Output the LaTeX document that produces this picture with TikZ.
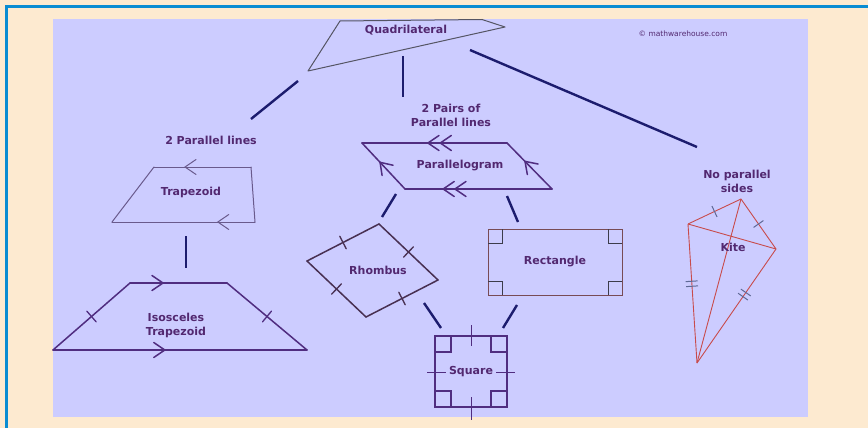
\documentclass[tikz,border=0pt]{standalone}
\usepackage{fontspec}
\setmainfont{DejaVu Sans}
\usetikzlibrary{decorations.markings}
\definecolor{cream}{RGB}{253,234,208}
\definecolor{frameblue}{RGB}{10,140,210}
\definecolor{panel}{RGB}{204,204,255}
\definecolor{textpurple}{RGB}{82,40,112}
\definecolor{branchblue}{RGB}{28,28,110}
\definecolor{quadgray}{RGB}{85,85,100}
\definecolor{trapgray}{RGB}{105,90,140}
\definecolor{shapepurple}{RGB}{80,45,128}
\definecolor{rhomdark}{RGB}{72,48,82}
\definecolor{rectbrown}{RGB}{120,75,85}
\definecolor{cornergray}{RGB}{60,60,75}
\definecolor{kitered}{RGB}{200,75,75}
\definecolor{tickblue}{RGB}{95,105,150}
\tikzstyle{shapetext} = [font=\fontsize{11}{14}\selectfont\bfseries, text=textpurple, align=center, inner sep=0pt]
\tikzstyle{branch} = [line width=2.4pt, draw=branchblue]
\tikzstyle{outline} = [line width=1.5pt, line cap=round, line join=round]
\tikzset{
  chevat/.style={postaction={decorate, decoration={markings,
    mark=at position #1 with {\draw[line cap=round, line join=miter] (-11,-7.5) -- (0,0) -- (-11,7.5);}}}},
  tickat/.style={postaction={decorate, decoration={markings,
    mark=at position #1 with {\draw[line width=1.3pt] (0,-7) -- (0,7);}}}},
  dtickat/.style={postaction={decorate, decoration={markings,
    mark=at position #1 with {\draw[tickblue, line width=1pt] (-2.5,-6) -- (-2.5,6) (2.5,-6) -- (2.5,6);}}}}
}

\begin{document}
\begin{tikzpicture}[x=1pt, y=-1pt]
\useasboundingbox (0,0) rectangle (868,428);
\fill[cream] (0,0) rectangle (868,428);
\draw[frameblue, line width=3pt] (6.5,432) -- (6.5,6.5) -- (872,6.5);
\fill[panel] (53,19) rectangle (808,417);

% top shape
\draw[quadgray, line width=1pt, line join=round] (340,21) -- (482,19.5) -- (505,27) -- (308,71) -- cycle;
\node (quad) [shapetext] at (406,30) {Quadrilateral};
\node (copy) [font=\fontsize{7.5}{9}\selectfont, text=textpurple] at (683,34) {© mathwarehouse.com};

% branches from the top
\coordinate (qleft) at (298,81);
\coordinate (qmid) at (403,56);
\coordinate (qright) at (470,50);
\coordinate (twoline) at (251,119);
\coordinate (twopair) at (403,97);
\coordinate (noline) at (697,147);
\draw [branch] (qleft) -- (twoline);
\draw [branch] (qmid) -- (twopair);
\draw [branch] (qright) -- (noline);

% trapezoids
\node (lines1) [shapetext] at (211,140) {2 Parallel lines};
\coordinate (tA) at (154,167);
\coordinate (tB) at (251,167);
\coordinate (tC) at (255,222);
\coordinate (tD) at (112,222);
\draw[trapgray, outline, line width=1pt] (tB) -- (tC) (tD) -- (tA);
\draw[trapgray, outline, line width=1pt, chevat=0.68] (tB) -- (tA);
\draw[trapgray, outline, line width=1pt, chevat=0.26] (tC) -- (tD);
\node (trap) [shapetext] at (191,192) {Trapezoid};
\coordinate (trapdown) at (186,236);
\coordinate (isoup) at (186,268);
\draw [branch] (trapdown) -- (isoup);
\coordinate (iA) at (130,283);
\coordinate (iB) at (227,283);
\coordinate (iC) at (307,350);
\coordinate (iD) at (53,350);
\draw[shapepurple, outline, chevat=0.34] (iA) -- (iB);
\draw[shapepurple, outline, chevat=0.44] (iD) -- (iC);
\draw[shapepurple, outline, tickat=0.5] (iD) -- (iA);
\draw[shapepurple, outline, tickat=0.5] (iB) -- (iC);
\node (iso) [shapetext] at (176,325) {Isosceles\\Trapezoid};

% parallelogram
\node (lines2) [shapetext] at (451,115) {2 Pairs of\\Parallel lines};
\coordinate (pA) at (362,143);
\coordinate (pB) at (507,143);
\coordinate (pC) at (552,189);
\coordinate (pD) at (405,189);
\draw[shapepurple, outline, chevat=0.46, chevat=0.545] (pB) -- (pA);
\draw[shapepurple, outline, chevat=0.66, chevat=0.74] (pC) -- (pD);
\draw[shapepurple, outline, chevat=0.58] (pD) -- (pA);
\draw[shapepurple, outline, chevat=0.6] (pC) -- (pB);
\node (para) [shapetext] at (460,166) {Parallelogram};
\coordinate (paraL) at (396,194);
\coordinate (rhomup) at (382,217);
\coordinate (paraR) at (507,196);
\coordinate (rectup) at (518,222);
\draw [branch] (paraL) -- (rhomup);
\draw [branch] (paraR) -- (rectup);

% rhombus
\coordinate (rA) at (379,224);
\coordinate (rB) at (438,280);
\coordinate (rC) at (366,317);
\coordinate (rD) at (307,261);
\draw[rhomdark, outline, tickat=0.5] (rA) -- (rB);
\draw[rhomdark, outline, tickat=0.5] (rB) -- (rC);
\draw[rhomdark, outline, tickat=0.5] (rC) -- (rD);
\draw[rhomdark, outline, tickat=0.5] (rD) -- (rA);
\node (rhom) [shapetext] at (378,270) {Rhombus};

% rectangle
\draw[rectbrown, line width=1pt] (488,229) rectangle (622,295);
\draw[cornergray, line width=1pt] (488,243) -| (502,229) (608,229) |- (622,243) (622,281) -| (608,295) (502,295) |- (488,281);
\node (rect) [shapetext] at (555,262) {Rectangle};

% square
\coordinate (rhomdown) at (424,303);
\coordinate (sqleft) at (441,328);
\coordinate (rectdown) at (517,305);
\coordinate (sqright) at (503,328);
\draw [branch] (rhomdown) -- (sqleft);
\draw [branch] (rectdown) -- (sqright);
\draw[shapepurple, line width=1.8pt] (435,336) rectangle (507,407);
\draw[shapepurple, line width=1.2pt] (435,352) -| (451,336) (491,336) |- (507,352) (507,391) -| (491,407) (451,407) |- (435,391);
\draw[shapepurple, line width=1pt] (471,325) -- (471,346) (471,397) -- (471,420) (427,372) -- (446,372) (496,372) -- (515,372);
\node (sq) [shapetext] at (471,372) {Square};

% kite
\node (nolines) [shapetext] at (737,181) {No parallel\\sides};
\coordinate (kA) at (741,199);
\coordinate (kB) at (776,249);
\coordinate (kC) at (697,363);
\coordinate (kD) at (688,224);
\draw[kitered, line width=0.9pt] (kA) -- (kC) (kD) -- (kB);
\draw[kitered, line width=0.9pt, postaction={decorate, decoration={markings, mark=at position 0.5 with {\draw[tickblue, line width=1pt] (0,-6) -- (0,6);}}}] (kD) -- (kA);
\draw[kitered, line width=0.9pt, postaction={decorate, decoration={markings, mark=at position 0.5 with {\draw[tickblue, line width=1pt] (0,-6) -- (0,6);}}}] (kA) -- (kB);
\draw[kitered, line width=0.9pt, dtickat=0.43] (kD) -- (kC);
\draw[kitered, line width=0.9pt, dtickat=0.4] (kB) -- (kC);
\node (kite) [shapetext] at (733,247) {Kite};
\end{tikzpicture}
\end{document}
